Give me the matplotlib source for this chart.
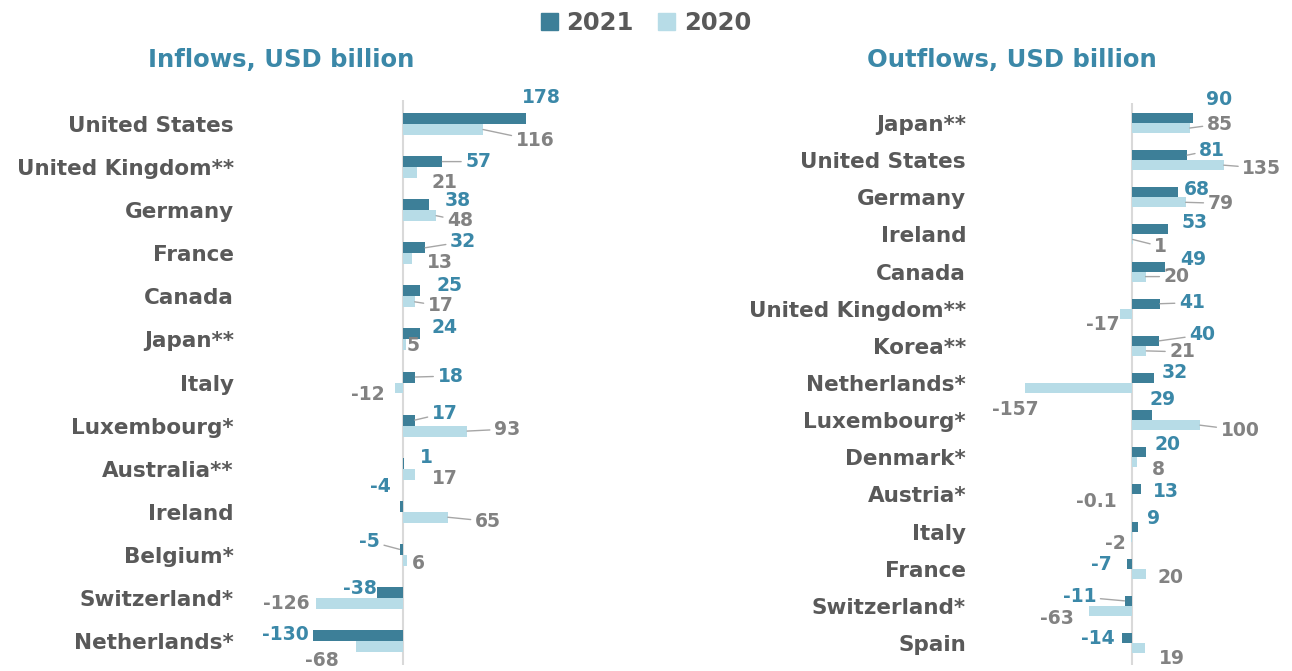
import matplotlib.pyplot as plt
from matplotlib.patches import Patch

plt.rcParams['font.family'] = ['DejaVu Sans']
plt.rcParams['font.weight'] = 'bold'

DARK = '#3d7f98'
LIGHT = '#b7dce7'
TEAL_TXT = '#3b88a8'
GREY_TXT = '#828282'
CAT_TXT = '#595959'

# FDI flows by economy, USD billion
in_countries = ['United States', 'United Kingdom**', 'Germany', 'France', 'Canada',
                'Japan**', 'Italy', 'Luxembourg*', 'Australia**', 'Ireland',
                'Belgium*', 'Switzerland*', 'Netherlands*']
in_2021 = [178, 57, 38, 32, 25, 24, 18, 17, 1, -4, -5, -38, -130]
in_2020 = [116, 21, 48, 13, 17, 5, -12, 93, 17, 65, 6, -126, -68]

out_countries = ['Japan**', 'United States', 'Germany', 'Ireland', 'Canada',
                 'United Kingdom**', 'Korea**', 'Netherlands*', 'Luxembourg*',
                 'Denmark*', 'Austria*', 'Italy', 'France', 'Switzerland*', 'Spain']
out_2021 = [90, 81, 68, 53, 49, 41, 40, 32, 29, 20, 13, 9, -7, -11, -14]
out_2020 = [85, 135, 79, 1, 20, -17, 21, -157, 100, 8, -0.1, -2, 20, -63, 19]

# label placement: offsets in pixels from the bar end, plus leader-line flags
in_off21 = [(16, 21), (36, 0), (29, 4), (38, 6), (29, 5), (25, 6), (35, 1),
            (30, 7), (23, 6), (-20, 20), (-30, 8), (-17, 4), (-28, 1)]
in_lead21 = [0, 1, 0, 1, 0, 0, 1, 1, 0, 0, 1, 0, 0]
in_off20 = [(52, -11), (27, -10), (24, -5), (28, -4), (26, -4), (7, -1), (-27, -6),
            (40, 2), (30, -4), (40, -4), (11, -3), (-30, 0), (-34, -14)]
in_lead20 = [1, 0, 1, 0, 1, 0, 0, 1, 0, 1, 0, 0, 0]

out_off21 = [(26, 19), (25, 5), (19, 3), (27, 7), (28, 7), (32, 1), (43, 6), (21, 6),
             (11, 16), (22, 8), (25, -2), (15, 8), (-26, -1), (-45, 4), (-25, -1)]
out_lead21 = [0, 1, 0, 0, 0, 1, 1, 0, 0, 0, 0, 0, 0, 1, 0]
out_off20 = [(30, 4), (38, -3), (35, -1), (28, -7), (31, 0), (-18, -11), (36, -1),
             (-10, -21), (40, -5), (21, -7), (-36, -2), (-15, -7), (25, -4),
             (-32, -8), (27, -10)]
out_lead20 = [1, 1, 1, 1, 1, 0, 1, 0, 1, 0, 0, 0, 0, 0, 0]


def fmt(v):
    return f'{v:g}'


def draw_panel(ax, countries, v21, v20, off21, lead21, off20, lead20, h):
    n = len(countries)
    ys = list(range(n))
    ax.barh([y - h / 2 for y in ys], v21, height=h, color=DARK, zorder=2)
    ax.barh([y + h / 2 for y in ys], v20, height=h, color=LIGHT, zorder=2)
    ax.axvline(0, color='#d9d9d9', lw=1.5, zorder=1)
    for i in ys:
        for v, off, lead, dy, col in ((v21[i], off21[i], lead21[i], -h / 2, TEAL_TXT),
                                      (v20[i], off20[i], lead20[i], h / 2, GREY_TXT)):
            props = dict(arrowstyle='-', color='#a6a6a6', lw=1, shrinkA=1, shrinkB=0) if lead else None
            ax.annotate(fmt(v), xy=(v, i + dy), xytext=off, textcoords='offset pixels',
                        ha='center', va='center', color=col, fontsize=13.5,
                        fontweight='bold', arrowprops=props, zorder=3)
    ax.set_yticks(ys)
    ax.set_yticklabels(countries, fontsize=15.5, color=CAT_TXT, fontweight='bold')
    ax.tick_params(axis='y', length=0, pad=8)
    ax.set_xticks([])
    for s in ax.spines.values():
        s.set_visible(False)
    ax.patch.set_alpha(0)


fig = plt.figure(figsize=(12.92, 6.71), dpi=100)

ax1 = fig.add_axes([0.1896, 0.00894, 0.2593, 0.842])
draw_panel(ax1, in_countries, in_2021, in_2020, in_off21, in_lead21, in_off20, in_lead20, 0.255)
ax1.set_xlim(-229, 256.5)
ax1.set_ylim(12.557, -0.557)

ax2 = fig.add_axes([0.7585, 0.00894, 0.2361, 0.8375])
draw_panel(ax2, out_countries, out_2021, out_2020, out_off21, out_lead21, out_off20, out_lead20, 0.27)
ax2.set_xlim(-223.5, 225)
ax2.set_ylim(14.592, -0.538)
ax2.tick_params(axis='y', pad=10)

fig.text(0.218, 0.91, 'Inflows, USD billion', ha='center', va='center',
         fontsize=17.5, fontweight='bold', color=TEAL_TXT)
fig.text(0.783, 0.91, 'Outflows, USD billion', ha='center', va='center',
         fontsize=17.5, fontweight='bold', color=TEAL_TXT)

handles = [Patch(color=DARK, label='2021'), Patch(color=LIGHT, label='2020')]
leg = fig.legend(handles=handles, loc='center', bbox_to_anchor=(0.5, 0.965), ncol=2,
                 frameon=False, handlelength=0.7, handleheight=0.7, handletextpad=0.35,
                 columnspacing=1.0, prop={'size': 17.5, 'weight': 'bold'})
for t in leg.get_texts():
    t.set_color(CAT_TXT)

fig.savefig('out.png', dpi=100)
